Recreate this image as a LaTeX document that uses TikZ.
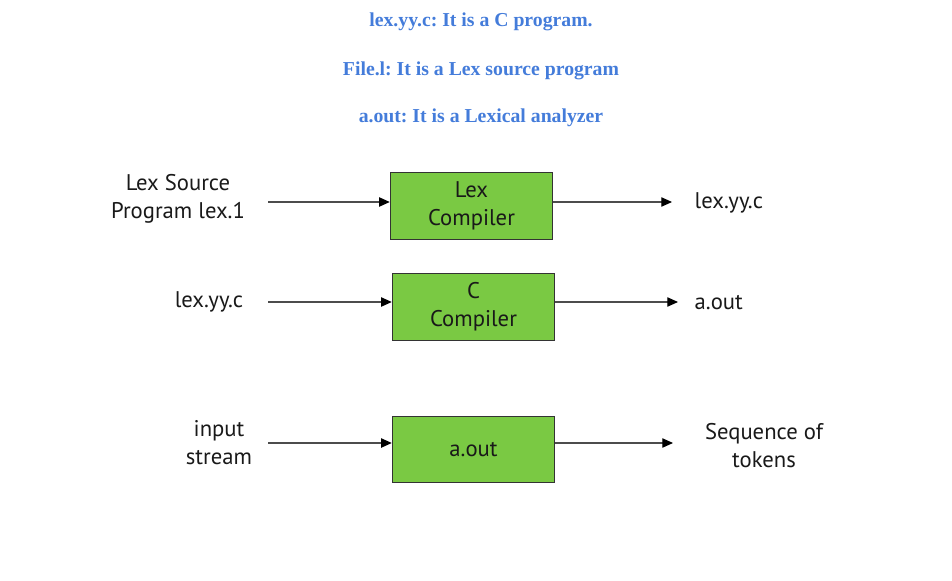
\documentclass[tikz,border=0pt]{standalone}
\usepackage{fontspec}
\setmainfont{PT Sans}
\newfontfamily\titlefont{Liberation Serif}
\usetikzlibrary{arrows.meta}
\definecolor{titleblue}{RGB}{68,124,218}
\definecolor{boxgreen}{RGB}{122,201,67}
\frenchspacing
\tikzset{
  flow/.style={draw=black!70,line width=0.8pt,-{Triangle[length=8pt,width=7pt,color=black]}},
  label/.style={align=center,text=black!90,font=\fontsize{17}{21}\selectfont}
}
\begin{document}
\begin{tikzpicture}[x=0.75pt,y=-0.75pt,auto]
            \useasboundingbox (0,0) rectangle (952,581);
            % notes at the top
            \begin{scope}[every node/.style={font=\titlefont\bfseries\fontsize{14.8}{16}\selectfont,text=titleblue}]
                \node (n1) at (481,22) {lex.yy.c: It is a C program.};
                \node (n2) at (481,71) {File.l: It is a Lex source program};
                \node (n3) at (481,118) {a.out: It is a Lexical analyzer};
            \end{scope}
            % the three steps
            \begin{scope}[every node/.style={draw=black!80,fill=boxgreen,line width=0.6pt,minimum width=122pt,minimum height=50pt,align=center,text=black!90,font=\fontsize{17}{21}\selectfont}]
                \node (lex) at (471.5,206) {Lex\\Compiler};
                \node (cc) at (473.5,307) {C\\Compiler};
                \node (run) at (473.5,449.5) {a.out};
            \end{scope}
            \node[label] (src) at (178,199) {Lex Source\\Program lex.1};
            \node[label,anchor=west] (lexc) at (690,203) {lex.yy.c};
            \node[label] (cin) at (209,302) {lex.yy.c};
            \node[label,anchor=west] (aout) at (690,303) {a.out};
            \node[label] (inp) at (219,443) {input\\stream};
            \node[label] (tok) at (764,446) {Sequence of\\tokens};
            \coordinate (a1) at (268,202);
            \coordinate (b1) at (672,202);
            \coordinate (a2) at (268,302);
            \coordinate (b2) at (678,302);
            \coordinate (a3) at (268,443);
            \coordinate (b3) at (673,443);
            \draw[flow] (a1) -- (lex.west |- a1);
            \draw[flow] (lex.east |- b1) -- (b1);
            \draw[flow] (a2) -- (cc.west |- a2);
            \draw[flow] (cc.east |- b2) -- (b2);
            \draw[flow] (a3) -- (run.west |- a3);
            \draw[flow] (run.east |- b3) -- (b3);
        \end{tikzpicture}
\end{document}
